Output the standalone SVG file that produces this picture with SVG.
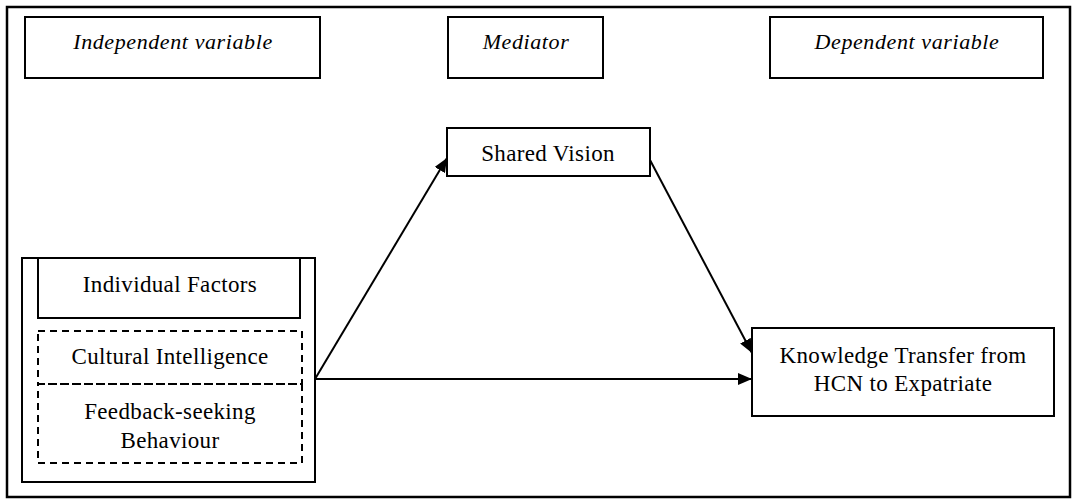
<svg xmlns="http://www.w3.org/2000/svg" width="1074" height="500" viewBox="0 0 1074 500">
<style>
.box{fill:#fff;stroke:#000;stroke-width:2}
.dash{fill:none;stroke:#000;stroke-width:2;stroke-dasharray:7,5}
.hdr{font-family:'Liberation Serif','Times New Roman','DejaVu Serif',serif;font-style:italic;font-size:22px;letter-spacing:0.6px;text-anchor:middle}
.lbl{font-family:'Liberation Serif','Times New Roman','DejaVu Serif',serif;font-size:23px;letter-spacing:0.35px;text-anchor:middle}
.con{stroke:#000;stroke-width:2;fill:none}
</style>
<defs>
<marker id="ah" viewBox="0 0 14 12" refX="14" refY="6" markerWidth="14" markerHeight="12" orient="auto" markerUnits="userSpaceOnUse"><path d="M0,0 L14,6 L0,12 z" fill="#000"/></marker>
</defs>
<rect x="0" y="0" width="1074" height="500" fill="#fff"/>
<rect id="frame" x="7" y="7" width="1063" height="490" fill="none" stroke="#000" stroke-width="2.5"/>
<g id="independent-header"><rect class="box" x="25" y="17" width="295" height="61"/><text class="hdr" x="173" y="49">Independent variable</text></g>
<g id="mediator-header"><rect class="box" x="448" y="17" width="155" height="61"/><text class="hdr" x="526" y="49">Mediator</text></g>
<g id="dependent-header"><rect class="box" x="770" y="17" width="273" height="61"/><text class="hdr" x="907" y="49">Dependent variable</text></g>
<g id="individual-factors">
<rect class="box" x="22" y="258" width="293" height="224"/>
<rect class="box" x="38" y="258" width="262" height="60"/>
<text class="lbl" x="170" y="292">Individual Factors</text>
</g>
<g id="cultural-intelligence"><rect class="dash" x="38" y="331" width="264" height="53"/><text class="lbl" x="170" y="364">Cultural Intelligence</text></g>
<g id="feedback-seeking"><rect class="dash" x="38" y="384" width="264" height="79"/><text class="lbl" x="170" y="419">Feedback-seeking</text><text class="lbl" x="170" y="448">Behaviour</text></g>
<g id="shared-vision"><rect class="box" x="447" y="128" width="203" height="48"/><text class="lbl" x="548" y="161">Shared Vision</text></g>
<g id="knowledge-transfer"><rect class="box" x="752" y="328" width="302" height="88"/><text class="lbl" x="903" y="363">Knowledge Transfer from</text><text class="lbl" x="903" y="391">HCN to Expatriate</text></g>
<g id="connectors">
<line class="con" x1="315" y1="379" x2="447" y2="158" marker-end="url(#ah)"/>
<line class="con" x1="650" y1="160" x2="752" y2="353" marker-end="url(#ah)"/>
<line class="con" x1="315" y1="379" x2="752" y2="379" marker-end="url(#ah)"/>
</g>
</svg>
